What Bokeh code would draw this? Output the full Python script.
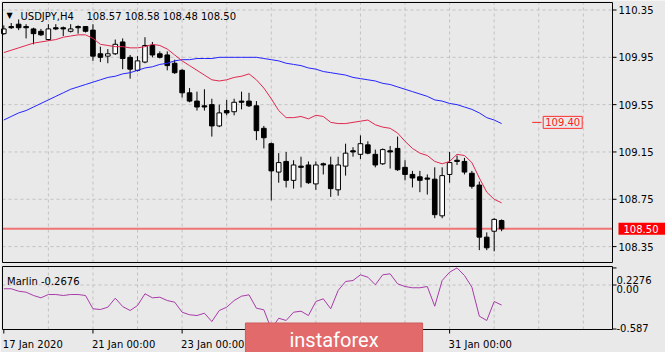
from bokeh.plotting import figure
from bokeh.models import Range1d, Label, ColumnDataSource
from bokeh.embed import file_html
from bokeh.resources import INLINE
from bokeh.core.properties import value

# ---------------- data ----------------
symbol = "USDJPY,H4"
last_ohlc = "108.57 108.58 108.48 108.50"

opens = [110.15, 110.21, 110.23, 110.21, 110.19, 110.17, 110.10, 110.20, 110.20, 110.17,
         110.21, 110.21, 110.18, 109.98, 109.96, 109.98, 110.08, 109.95, 109.84, 109.91,
         110.05, 109.98, 109.97, 109.90, 109.84, 109.65, 109.58, 109.54, 109.55, 109.37,
         109.50, 109.49, 109.58, 109.58, 109.54, 109.35, 109.22, 108.98, 109.07, 108.91,
         109.03, 109.04, 108.88, 109.05, 109.04, 108.83, 109.03, 109.16, 109.13, 109.21,
         109.13, 109.05, 109.16, 109.18, 109.02, 108.96, 108.94, 108.93, 108.92, 108.61,
         108.96, 109.08, 109.07, 108.97, 108.87, 108.43, 108.48, 108.57]
highs = [110.22, 110.24, 110.27, 110.23, 110.20, 110.19, 110.23, 110.23, 110.21, 110.23,
         110.22, 110.21, 110.23, 110.04, 110.02, 110.10, 110.11, 109.97, 109.96, 110.12,
         110.08, 110.00, 110.00, 109.93, 109.85, 109.69, 109.66, 109.68, 109.60, 109.55,
         109.59, 109.60, 109.66, 109.65, 109.58, 109.37, 109.23, 109.14, 109.15, 109.08,
         109.11, 109.07, 109.07, 109.06, 109.11, 109.11, 109.22, 109.19, 109.29, 109.24,
         109.17, 109.18, 109.20, 109.28, 109.08, 108.99, 108.99, 108.96, 109.02, 109.02,
         109.15, 109.12, 109.10, 108.99, 108.90, 108.47, 108.59, 108.58]
lows = [110.14, 110.19, 110.18, 110.11, 110.06, 110.13, 110.09, 110.18, 110.13, 110.16,
        110.15, 110.16, 109.92, 109.91, 109.90, 109.97, 109.85, 109.77, 109.83, 109.90,
        109.95, 109.94, 109.84, 109.81, 109.61, 109.57, 109.50, 109.50, 109.28, 109.36,
        109.46, 109.46, 109.51, 109.53, 109.25, 109.18, 108.74, 108.89, 108.85, 108.84,
        108.85, 108.88, 108.83, 108.96, 108.77, 108.78, 108.95, 109.11, 109.09, 109.13,
        109.02, 109.04, 109.01, 108.99, 108.91, 108.85, 108.81, 108.79, 108.59, 108.59,
        108.89, 109.04, 108.96, 108.84, 108.32, 108.32, 108.31, 108.48]
closes = [110.19, 110.20, 110.20, 110.20, 110.15, 110.14, 110.19, 110.19, 110.19, 110.19,
          110.20, 110.17, 109.96, 109.95, 109.98, 110.06, 109.94, 109.85, 109.92, 110.05,
          109.97, 109.95, 109.88, 109.82, 109.65, 109.58, 109.53, 109.53, 109.37, 109.48,
          109.48, 109.57, 109.57, 109.54, 109.33, 109.27, 108.99, 109.06, 108.91, 109.04,
          109.02, 108.89, 109.04, 109.04, 108.84, 109.04, 109.14, 109.15, 109.22, 109.14,
          109.04, 109.17, 109.15, 109.00, 108.96, 108.93, 108.91, 108.92, 108.62, 108.95,
          109.06, 109.07, 108.98, 108.86, 108.43, 108.34, 108.58, 108.50]

ma_red = [109.99, 110.01, 110.03, 110.05, 110.07, 110.08, 110.09, 110.10, 110.12, 110.13,
          110.14, 110.14, 110.11, 110.06, 110.05, 110.04, 110.04, 110.03, 110.03, 110.04,
          110.06, 110.05, 110.02, 109.97, 109.92, 109.88, 109.84, 109.80, 109.76, 109.75,
          109.76, 109.78, 109.79, 109.81, 109.76, 109.69, 109.60, 109.50, 109.44, 109.44,
          109.45, 109.43, 109.46, 109.45, 109.40, 109.39, 109.39, 109.40, 109.41, 109.42,
          109.38, 109.36, 109.35, 109.31, 109.24, 109.18, 109.14, 109.12, 109.07, 109.05,
          109.07, 109.13, 109.12, 109.06, 108.93, 108.81, 108.75, 108.72]
ma_blue = [109.42, 109.45, 109.48, 109.50, 109.53, 109.56, 109.59, 109.62, 109.65, 109.68,
           109.70, 109.72, 109.74, 109.76, 109.78, 109.79, 109.81, 109.82, 109.84, 109.86,
           109.87, 109.89, 109.90, 109.92, 109.93, 109.93, 109.94, 109.94, 109.94, 109.95,
           109.95, 109.95, 109.95, 109.95, 109.95, 109.94, 109.93, 109.92, 109.90, 109.89,
           109.88, 109.86, 109.85, 109.83, 109.82, 109.81, 109.80, 109.78, 109.77, 109.76,
           109.75, 109.73, 109.72, 109.70, 109.68, 109.66, 109.64, 109.62, 109.59, 109.58,
           109.56, 109.55, 109.53, 109.51, 109.48, 109.44, 109.42, 109.39]
marlin = [-0.050, -0.050, -0.083, -0.096, -0.140, -0.171, -0.127, -0.127, -0.140, -0.127,
          -0.127, -0.140, -0.317, -0.327, -0.296, -0.176, -0.287, -0.340, -0.273, -0.117,
          -0.171, -0.163, -0.207, -0.229, -0.363, -0.397, -0.407, -0.376, -0.487, -0.340,
          -0.296, -0.207, -0.149, -0.131, -0.309, -0.331, -0.587, -0.443, -0.473, -0.363,
          -0.349, -0.407, -0.220, -0.184, -0.317, -0.073, 0.047, 0.060, 0.136, 0.104,
          0.003, 0.136, 0.149, 0.016, -0.020, -0.037, -0.037, -0.020, -0.283, 0.060,
          0.171, 0.2276, 0.127, -0.029, -0.416, -0.473, -0.220, -0.2676]

price_ticks = [108.35, 108.75, 109.15, 109.55, 109.95, 110.35]
current_price = 108.50
target_price = 109.40
marlin_ticks = [-0.587, 0.0, 0.2276]
marlin_tick_labels = ["-0.587", "0.00", "0.2276"]
marlin_label = "Marlin -0.2676"
date_ticks = [0, 12, 24, 36, 48, 60]
date_labels = ["17 Jan 2020", "21 Jan 00:00", "23 Jan 00:00", "27 Jan 00:00", "29 Jan 00:00", "31 Jan 00:00"]
day_grid = list(range(6, 82, 6))

# ---------------- layout / styling constants (pixels) ----------------
W, H = 665, 352
BAR0_PX, BAR_PX = 3.3, 7.43          # x pixel of bar 0, pixels per bar
PRICE_REF, PRICE_REF_PX, PX_PER_PRICE = 110.35, 9.5, 118.3
M_ZERO_PX, PX_PER_M = 284.5, 75.0
BG = "#e9e9e9"
FONT = "DejaVu Sans"
GRID = "#c2c2c2"


def xd(px):
    return (px - BAR0_PX) / BAR_PX


def yp(px):
    return PRICE_REF - (px - PRICE_REF_PX) / PX_PER_PRICE


def ym(px):
    return (M_ZERO_PX - px) / PX_PER_M


X_LEFT, X_RIGHT = xd(2), xd(612)
MAIN_TOP, MAIN_BOT = yp(2), yp(262)
M_TOP, M_BOT = ym(266), ym(329)

p = figure(width=W, height=H, x_range=Range1d(xd(0), xd(W)), y_range=Range1d(yp(H), yp(0)),
           toolbar_location=None, output_backend="svg", x_axis_location=None,
           y_axis_location=None, min_border=0, min_border_left=0, min_border_right=0,
           min_border_top=0, min_border_bottom=0, background_fill_color=BG,
           border_fill_color=BG, outline_line_color=None)
p.grid.visible = False
p.extra_y_ranges = {"m": Range1d(ym(H), ym(0))}

# ---------------- grids ----------------
n = len(day_grid)
p.segment(x0=day_grid, x1=day_grid, y0=[MAIN_BOT] * n, y1=[MAIN_TOP] * n,
          line_color=GRID, line_dash="3 3", line_width=1)
p.segment(x0=day_grid, x1=day_grid, y0=[M_BOT] * n, y1=[M_TOP] * n, y_range_name="m",
          line_color=GRID, line_dash="3 3", line_width=1)
k = len(price_ticks)
p.segment(x0=[X_LEFT] * k, x1=[X_RIGHT] * k, y0=price_ticks, y1=price_ticks,
          line_color=GRID, line_dash="3 3", line_width=1)
p.segment(x0=[X_LEFT], x1=[X_RIGHT], y0=[0.0], y1=[0.0], y_range_name="m",
          line_color=GRID, line_dash="3 3", line_width=1)

# current price line
p.segment(x0=[X_LEFT], x1=[X_RIGHT], y0=[current_price], y1=[current_price],
          line_color="#f07474", line_width=2)

# ---------------- candles ----------------
idx = list(range(len(opens)))
src = ColumnDataSource(dict(
    i=idx, o=opens, h=highs, l=lows, c=closes,
    top=[max(a, b) for a, b in zip(opens, closes)],
    bot=[min(a, b) for a, b in zip(opens, closes)],
    fill=["white" if c > o else "black" for o, c in zip(opens, closes)],
))
p.segment(x0="i", y0="l", x1="i", y1="h", source=src, line_color="black", line_width=1)
p.vbar(x="i", width=0.62, top="top", bottom="bot", fill_color="fill", line_color="black",
       line_width=1, source=src)

p.line(idx, ma_blue, line_color="#2424ff", line_width=1)
p.line(idx, ma_red, line_color="#e0284e", line_width=1)

# indicator
p.line(idx, marlin, y_range_name="m", line_color="#a83ca8", line_width=1)

# ---------------- panel frames & ticks ----------------
p.quad(left=[X_LEFT], right=[X_RIGHT], bottom=[MAIN_BOT], top=[MAIN_TOP],
       fill_color=None, line_color="black", line_width=1)
p.quad(left=[X_LEFT], right=[X_RIGHT], bottom=[M_BOT], top=[M_TOP], y_range_name="m",
       fill_color=None, line_color="black", line_width=1)

TICK_END = xd(616)
p.segment(x0=[X_RIGHT] * k, x1=[TICK_END] * k, y0=price_ticks, y1=price_ticks,
          line_color="black", line_width=1)
p.segment(x0=[X_RIGHT] * 3, x1=[TICK_END] * 3, y0=marlin_ticks, y1=marlin_ticks,
          y_range_name="m", line_color="black", line_width=1)
nd = len(date_ticks)
p.segment(x0=date_ticks, x1=date_ticks, y0=[M_BOT] * nd, y1=[ym(333)] * nd,
          y_range_name="m", line_color="black", line_width=1)

# price axis labels
p.text(x=[xd(618)] * k, y=price_ticks, text=["%.2f" % t for t in price_ticks],
       text_font=value(FONT), text_font_size=value("10px"), text_color="black",
       text_align="left", text_baseline="middle")

# target price marker with label
p.segment(x0=[xd(531.7)], y0=[target_price], x1=[xd(541)], y1=[target_price],
          line_color="#ff2a2a", line_width=1)
p.add_layout(Label(x=xd(542.7), y=target_price, text="%.2f" % target_price, text_font=FONT,
                   text_font_size="10px", text_color="#ff2020", text_align="left",
                   text_baseline="middle", border_line_color="#ff3030", border_line_width=1,
                   background_fill_color=None, padding=2))

# current price tag on the axis
p.add_layout(Label(x=618, x_units="screen", y=current_price, text="%.2f" % current_price,
                   text_font=FONT, text_font_size="10px", text_color="white",
                   text_align="left", text_baseline="middle", background_fill_color="#ff0000",
                   padding=dict(left=5, right=12, top=2, bottom=2)))

# header
p.add_layout(Label(x=6, y=H - 15, x_units="screen", y_units="screen", text="\u25bc", text_font=FONT,
                   text_font_size="8px", text_color="black", text_baseline="alphabetic"))
p.add_layout(Label(x=20, y=H - 16.3, x_units="screen", y_units="screen", text=symbol,
                   text_font=FONT, text_font_size="10px", text_color="black",
                   text_baseline="alphabetic"))
p.add_layout(Label(x=86, y=H - 16.3, x_units="screen", y_units="screen", text=last_ohlc,
                   text_font=FONT, text_font_size="10px", text_color="black",
                   text_baseline="alphabetic"))

# indicator labels
p.add_layout(Label(x=6.5, y=H - 280.5, x_units="screen", y_units="screen", text=marlin_label,
                   text_font=FONT, text_font_size="10px", text_color="black",
                   text_baseline="alphabetic"))
m_label_baseline_px = {"0.2276": 279.3, "0.00": 288.3, "-0.587": 327.7}
for t in marlin_tick_labels:
    p.add_layout(Label(x=616, x_units="screen", y=H - m_label_baseline_px[t], y_units="screen",
                       text=t, text_font=FONT, text_font_size="10px", text_color="black",
                       text_align="left", text_baseline="alphabetic"))

# date labels
for xi, t in zip(date_ticks, date_labels):
    p.add_layout(Label(x=xi, y=H - 344, y_units="screen", text=t, text_font=FONT,
                       text_font_size="10px", text_color="black", text_align="left",
                       x_offset=-1, text_baseline="alphabetic"))

# watermark
p.add_layout(Label(x=333.5, x_units="screen", y=H - 343, y_units="screen", text="instaforex",
                   text_font="Roboto", text_font_size="20px", text_color="white",
                   text_align="center", text_baseline="alphabetic",
                   background_fill_color="#e26a6a", background_fill_alpha=1.0,
                   border_line_color="#cf5a5a",
                   padding=dict(left=44, right=44, top=5, bottom=12)))

open("out.html", "w").write(file_html(p, INLINE))
